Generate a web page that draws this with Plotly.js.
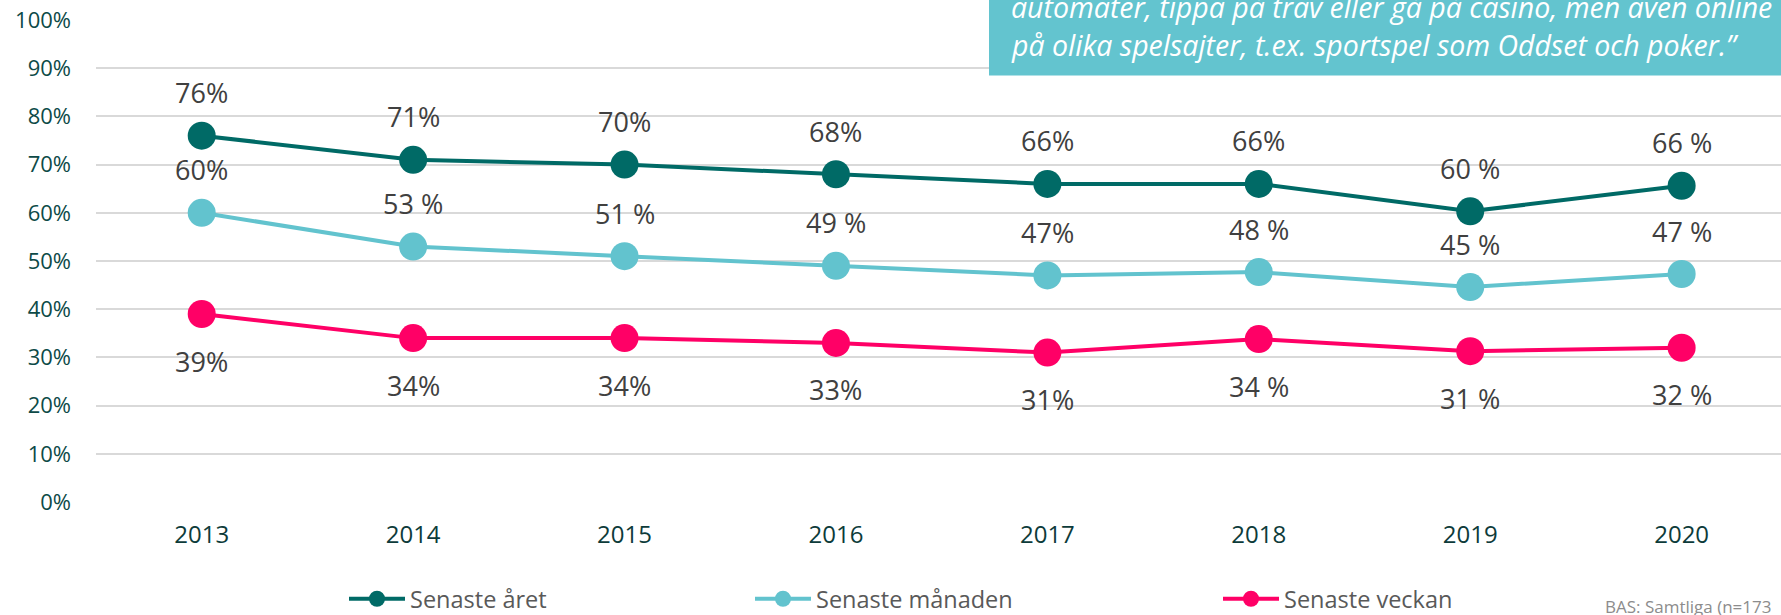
<!DOCTYPE html>
<html>
<head>
<meta charset="utf-8">
<script src="https://cdn.plot.ly/plotly-3.0.1.min.js"></script>
<style>html,body{margin:0;padding:0;background:#fff;overflow:hidden}</style>
</head>
<body>
<div id="chart" style="width:1781px;height:615px"></div>
<script>
var years = ["2013","2014","2015","2016","2017","2018","2019","2020"];
var aretVals = [76, 71, 70, 68, 66, 66, 60.3, 65.6];
var manadVals = [60, 53, 51, 49, 47, 47.7, 44.6, 47.3];
var veckaVals = [39, 34, 34, 33, 31, 33.8, 31.3, 32];
var aretLabels = ["76%","71%","70%","68%","66%","66%","60 %","66 %"];
var manadLabels = ["60%","53 %","51 %","49 %","47%","48 %","45 %","47 %"];
var veckaLabels = ["39%","34%","34%","33%","31%","34 %","31 %","32 %"];
var seriesNames = ["Senaste året","Senaste månaden","Senaste veckan"];
var quoteLines = ["automater, tippa på trav eller gå på casino, men även online","på olika spelsajter, t.ex. sportspel som Oddset och poker.”"];
var baseText = "BAS: Samtliga (n=173";

var colors = ["#006a66","#62c3ce","#ff0066"];
var vals = [aretVals, manadVals, veckaVals];
var labs = [aretLabels, manadLabels, veckaLabels];
var shifts = [43, 43, -47];
var legendIds = ["legend","legend2","legend3"];

var traces = vals.map(function(v, k){
  return {
    type: "scatter", mode: "lines+markers",
    x: years, y: v, name: seriesNames[k],
    line: {color: colors[k], width: 4},
    marker: {color: colors[k], size: 28},
    legend: legendIds[k],
    hoverinfo: "skip"
  };
});

var annotations = [];
vals.forEach(function(v, k){
  v.forEach(function(val, i){
    annotations.push({
      x: i, y: val, xref: "x", yref: "y",
      text: labs[k][i], showarrow: false,
      yshift: shifts[k], xanchor: "center", yanchor: "middle",
      font: {family: "Open Sans", size: 27, color: "#404040"}
    });
  });
});

function py(p){ return (501.5 - p) / 481.5; }
function px(p){ return (p - 96) / 1685; }

annotations.push({
  xref: "paper", yref: "paper", x: px(1009), y: py(7),
  xanchor: "left", yanchor: "middle", showarrow: false,
  text: "<i>" + quoteLines[0] + "</i>",
  font: {family: "Open Sans", size: 28.5, color: "#ffffff"}
});
annotations.push({
  xref: "paper", yref: "paper", x: px(1009), y: py(44.7),
  xanchor: "left", yanchor: "middle", showarrow: false,
  text: "<i>" + quoteLines[1] + "</i>",
  font: {family: "Open Sans", size: 28.5, color: "#ffffff"}
});
annotations.push({
  xref: "paper", yref: "paper", x: px(1603), y: py(606),
  xanchor: "left", yanchor: "middle", showarrow: false,
  text: baseText,
  font: {family: "Open Sans", size: 17, color: "#8c8c8c"}
});

function legendAt(x){
  return {
    orientation: "h", xref: "container", yref: "container",
    x: x / 1781, y: 1 - 599 / 615, xanchor: "left", yanchor: "middle",
    font: {family: "Open Sans", size: 23.5, color: "#595959"},
    itemwidth: 56, bgcolor: "rgba(0,0,0,0)", borderwidth: 0,
    itemclick: false, itemdoubleclick: false
  };
}

var layout = {
  width: 1781, height: 615,
  margin: {l: 96, r: 0, t: 20, b: 113, pad: 0},
  paper_bgcolor: "#ffffff", plot_bgcolor: "#ffffff",
  showlegend: true,
  xaxis: {
    type: "category", range: [-0.5, 7.47],
    showgrid: false, zeroline: false, showline: false, ticks: "",
    ticklabelstandoff: 16,
    tickfont: {family: "Open Sans", size: 24, color: "#0d3b3a"},
    fixedrange: true
  },
  yaxis: {
    range: [0, 100], dtick: 10, ticksuffix: "%",
    showgrid: true, gridcolor: "#d9d9d9", gridwidth: 2,
    zeroline: false, showline: false, ticks: "",
    ticklabelstandoff: 24,
    tickfont: {family: "Open Sans", size: 22, color: "#0d4a47"},
    fixedrange: true
  },
  legend: legendAt(344),
  legend2: legendAt(750),
  legend3: legendAt(1218),
  shapes: [{
    type: "rect", xref: "paper", yref: "paper",
    x0: px(989), x1: 1.05, y0: py(75.5), y1: 1.1,
    fillcolor: "#63c4cf", line: {width: 0}, layer: "above"
  }],
  annotations: annotations
};

Plotly.newPlot("chart", traces, layout, {displayModeBar: false, staticPlot: true});
</script>
</body>
</html>
